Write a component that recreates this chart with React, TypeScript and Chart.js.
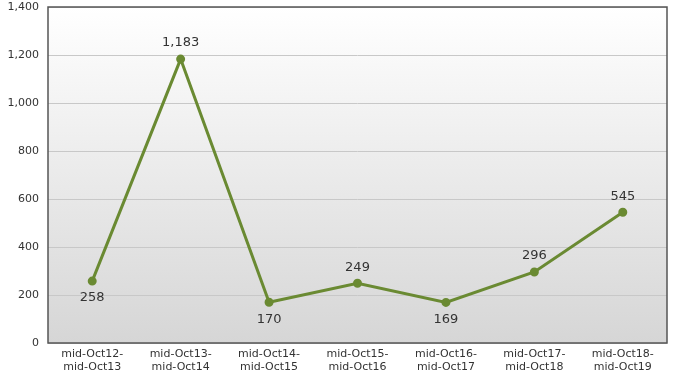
import React, { useEffect, useRef } from "react";
import { Chart, registerables } from "chart.js";

Chart.register(...registerables);

const categories: string[][] = [
  ["mid-Oct12-", "mid-Oct13"],
  ["mid-Oct13-", "mid-Oct14"],
  ["mid-Oct14-", "mid-Oct15"],
  ["mid-Oct15-", "mid-Oct16"],
  ["mid-Oct16-", "mid-Oct17"],
  ["mid-Oct17-", "mid-Oct18"],
  ["mid-Oct18-", "mid-Oct19"],
];
const values: number[] = [258, 1183, 170, 249, 169, 296, 545];
const labelBelow: boolean[] = [true, false, true, false, true, false, false];

const FONT = "'DejaVu Sans', Verdana, sans-serif";
const LINE = "#6a8a32";

const bgPlugin = {
  id: "plotBg",
  beforeDraw(chart: any) {
    const { ctx, chartArea } = chart;
    const { left, top, right, bottom } = chartArea;
    const g = ctx.createLinearGradient(0, top, 0, bottom);
    g.addColorStop(0, "#ffffff");
    g.addColorStop(1, "#d6d6d6");
    ctx.save();
    ctx.fillStyle = g;
    ctx.fillRect(left, top, right - left, bottom - top);
    ctx.restore();
  },
  afterDraw(chart: any) {
    const { ctx, chartArea } = chart;
    const { left, top, right, bottom } = chartArea;
    ctx.save();
    ctx.strokeStyle = "#555555";
    ctx.lineWidth = 1.5;
    ctx.strokeRect(left, top, right - left, bottom - top);
    ctx.restore();
  },
};

const labelPlugin = {
  id: "dataLabels",
  afterDatasetsDraw(chart: any) {
    const { ctx } = chart;
    const meta = chart.getDatasetMeta(0);
    ctx.save();
    ctx.font = `13px ${FONT}`;
    ctx.fillStyle = "#333333";
    ctx.textAlign = "center";
    ctx.textBaseline = "middle";
    meta.data.forEach((pt: any, i: number) => {
      const txt = values[i].toLocaleString("en-US");
      const dy = labelBelow[i] ? 17 : -16;
      ctx.fillText(txt, pt.x, pt.y + dy);
    });
    ctx.restore();
  },
};

export default function App() {
  const ref = useRef<HTMLCanvasElement>(null);
  useEffect(() => {
    document.body.style.margin = "0";
    const chart = new Chart(ref.current!, {
      type: "line",
      data: {
        labels: categories,
        datasets: [
          {
            data: values,
            borderColor: LINE,
            backgroundColor: LINE,
            borderWidth: 3,
            pointRadius: 3,
            pointBackgroundColor: LINE,
            pointBorderColor: LINE,
            tension: 0,
          },
        ],
      },
      options: {
        animation: false,
        responsive: false,
        layout: { padding: { top: 7, right: 15, left: 0, bottom: 0 } },
        plugins: { legend: { display: false }, tooltip: { enabled: false } },
        scales: {
          x: {
            offset: true,
            afterFit(scale: any) {
              scale.height = 31;
              scale.paddingLeft = 0;
              scale.paddingRight = 0;
            },
            grid: { display: false, drawTicks: false },
            border: { display: false },
            ticks: {
              color: "#333333",
              font: { family: FONT, size: 11, lineHeight: 1.25 },
              padding: 4,
              maxRotation: 0,
              autoSkip: false,
            },
          },
          y: {
            min: 0,
            max: 1400,
            afterFit(scale: any) {
              scale.width = 48;
              scale.paddingTop = 0;
              scale.paddingBottom = 0;
            },
            grid: { color: "#c8c8c8", drawTicks: false, lineWidth: 1 },
            border: { display: false },
            ticks: {
              stepSize: 200,
              color: "#333333",
              font: { family: FONT, size: 11 },
              padding: 9,
              callback: (v: any) => Number(v).toLocaleString("en-US"),
            },
          },
        },
      },
      plugins: [bgPlugin, labelPlugin],
    });
    return () => chart.destroy();
  }, []);
  return (
    <div style={{ width: 682, height: 374 }}>
      <canvas ref={ref} width={682} height={374} style={{ display: "block" }} />
    </div>
  );
}
